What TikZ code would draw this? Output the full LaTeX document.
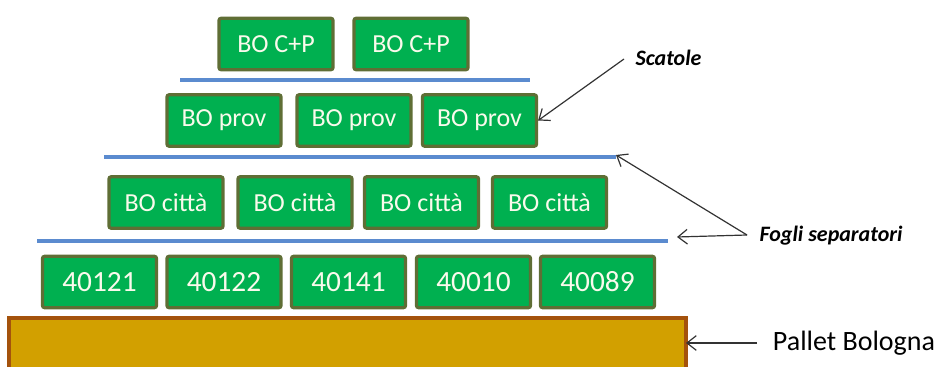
\documentclass[tikz,border=0pt]{standalone}
\usepackage{fontspec}
\setmainfont{Carlito}
\usetikzlibrary{arrows.meta}
\definecolor{boxgreen}{HTML}{00B050}
\definecolor{boxedge}{HTML}{5F6E35}
\definecolor{boxtext}{HTML}{FAFAEC}
\definecolor{sheetblue}{HTML}{5B8BCF}
\definecolor{palletfill}{HTML}{D2A000}
\definecolor{palletedge}{HTML}{A4520C}
\definecolor{pointer}{HTML}{333333}
\tikzset{
  crate/.style={draw=boxedge, fill=boxgreen, line width=2.4pt, rounded corners=1.5pt,
    minimum width=85.5pt, minimum height=38.5pt, inner sep=0pt,
    text=boxtext, font=\fontsize{19.5}{23}\selectfont},
  numcrate/.style={crate, font=\fontsize{22}{26}\selectfont},
  sheet/.style={draw=sheetblue, line width=2.4pt},
  callout/.style={font=\fontsize{16.5}{20}\selectfont\bfseries\itshape, text=black, inner sep=0pt},
  pointer/.style={draw=pointer, line width=0.9pt, -{Straight Barb[length=7pt,width=11pt]}},
}
\begin{document}
\begin{tikzpicture}[x=0.75pt, y=-0.75pt]
\useasboundingbox (0,0) rectangle (940,367);

% pallet base
\begin{scope}
  \clip (0,0) rectangle (940,367);
  \draw[draw=palletedge, fill=palletfill, line width=2.4pt] (9,318) rectangle (686,380);
\end{scope}
\coordinate (palletE) at (686,343);

% top layer
\node[crate] (c1) at (276,44) {BO C+P};
\node[crate] (c2) at (411,44) {BO C+P};
\coordinate (s1w) at (180,80); \coordinate (s1e) at (530,80);
\draw[sheet] (s1w) -- (s1e);

% second layer
\node[crate] (p1) at (224,120.5) {BO prov};
\node[crate] (p2) at (354,120.5) {BO prov};
\node[crate] (p3) at (479.5,120.5) {BO prov};
\coordinate (s2w) at (104,157); \coordinate (s2e) at (616,157);
\draw[sheet] (s2w) -- (s2e);

% third layer
\node[crate] (t1) at (166,202.5) {BO città};
\node[crate] (t2) at (295,202.5) {BO città};
\node[crate] (t3) at (421.5,202.5) {BO città};
\node[crate] (t4) at (549.5,202.5) {BO città};
\coordinate (s3w) at (37,241); \coordinate (s3e) at (668,241);
\draw[sheet] (s3w) -- (s3e);

% bottom layer
\node[numcrate] (b1) at (99.5,282) {40121};
\node[numcrate] (b2) at (224,282) {40122};
\node[numcrate] (b3) at (348.5,282) {40141};
\node[numcrate] (b4) at (473.5,282) {40010};
\node[numcrate] (b5) at (597.5,282) {40089};

% labels
\node[callout] (lblbox) at (668.5,58) {Scatole};
\node[callout] (lblsheet) at (831,236) {Fogli separatori};
\node[font=\fontsize{21}{25}\selectfont, inner sep=0pt] (lblpallet) at (854,343) {Pallet Bologna};

\coordinate (fromBox) at (624,59);
\coordinate (fromSheet) at (747,235);
\coordinate (fromPallet) at (757,343);
\coordinate (toSheet3) at (677,237);

\draw[pointer] (fromBox) -- (p3.east);
\draw[pointer] (fromSheet) -- ([yshift=1.5pt]s2e);
\draw[pointer] (fromSheet) -- (toSheet3);
\draw[pointer] (fromPallet) -- (palletE);
\end{tikzpicture}
\end{document}
